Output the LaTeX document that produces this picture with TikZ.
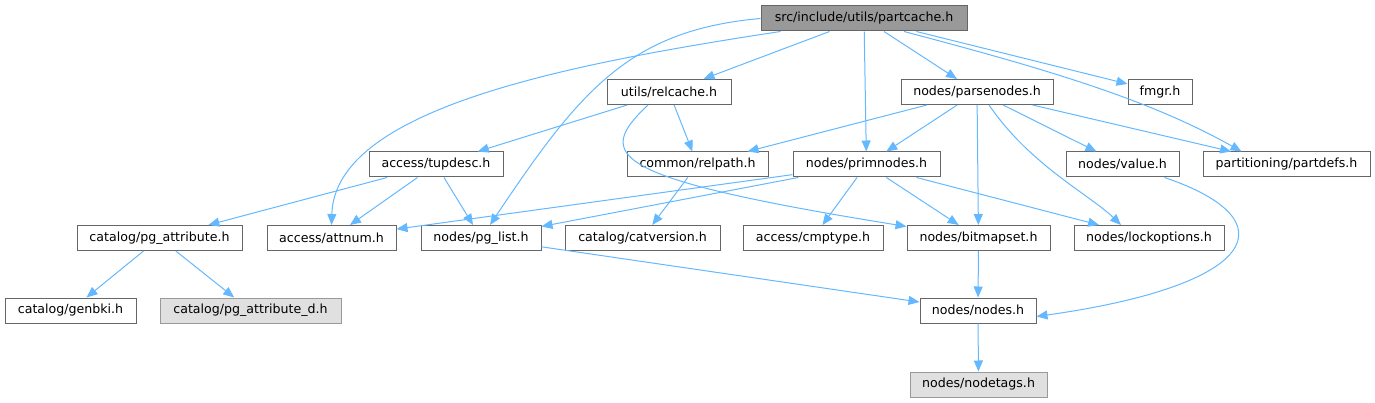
\documentclass[tikz,border=0pt]{standalone}
\usepackage{fontspec}
\setmainfont{DejaVu Sans}
\usetikzlibrary{arrows.meta}
\definecolor{edgeblue}{HTML}{63B8FF}
\definecolor{boxline}{HTML}{666666}
\definecolor{rootfill}{HTML}{999999}
\definecolor{greyfill}{HTML}{E0E0E0}
\definecolor{greyline}{HTML}{999999}

\begin{document}
\begin{tikzpicture}[x=1pt, y=-1pt,
  file/.style={draw=boxline, line width=1pt, fill=white, minimum height=25pt, inner sep=0pt, font=\fontsize{12.6}{15}\selectfont},
  root/.style={file, fill=rootfill},
  ghost/.style={file, draw=greyline, fill=greyfill},
  inc/.style={draw=edgeblue, line width=1pt, -{Triangle[length=11pt,width=9pt]}}]
\useasboundingbox (0,0) rectangle (1375,403);
\path (864,18.5) node[root, minimum width=206pt] (partcache) {src/include/utils/partcache.h};
\path (669,92) node[file, minimum width=124pt] (relcache) {utils/relcache.h};
\path (977,92) node[file, minimum width=152pt] (parsenodes) {nodes/parsenodes.h};
\path (1160,92) node[file, minimum width=64pt] (fmgr) {fmgr.h};
\path (436,164.5) node[file, minimum width=134pt] (tupdesc) {access/tupdesc.h};
\path (697.5,164.5) node[file, minimum width=141pt] (relpath) {common/relpath.h};
\path (866.5,164.5) node[file, minimum width=147pt] (primnodes) {nodes/primnodes.h};
\path (1122.5,164.5) node[file, minimum width=113pt] (value) {nodes/value.h};
\path (1286.5,164.5) node[file, minimum width=167pt] (partdefs) {partitioning/partdefs.h};
\path (159.5,238) node[file, minimum width=165pt] (pgattribute) {catalog/pg\_attribute.h};
\path (331.5,238) node[file, minimum width=129pt] (attnum) {access/attnum.h};
\path (481,238) node[file, minimum width=120pt] (pglist) {nodes/pg\_list.h};
\path (642.5,238) node[file, minimum width=155pt] (catversion) {catalog/catversion.h};
\path (813,238) node[file, minimum width=140pt] (cmptype) {access/cmptype.h};
\path (978.5,238) node[file, minimum width=143pt] (bitmapset) {nodes/bitmapset.h};
\path (1149,238) node[file, minimum width=150pt] (lockoptions) {nodes/lockoptions.h};
\path (70.5,310.5) node[file, minimum width=131pt] (genbki) {catalog/genbki.h};
\path (250.5,310.5) node[ghost, minimum width=181pt] (pgattributed) {catalog/pg\_attribute\_d.h};
\path (978,310.5) node[file, minimum width=116pt] (nodes) {nodes/nodes.h};
\path (978.5,384.5) node[ghost, minimum width=137pt] (nodetags) {nodes/nodetags.h};
% from partcache.h
\draw[inc] ([xshift=20pt]partcache.south west) .. controls (560,65) and (335,110) .. (attnum.north);
\draw[inc] (partcache.west) .. controls (630,30) and (580,90) .. ([xshift=9pt]pglist.north);
\draw[inc] (partcache) -- (relcache);
\draw[inc] (partcache) -- (primnodes);
\draw[inc] (partcache) -- (parsenodes);
\draw[inc] (partcache) -- (fmgr);
\draw[inc] ([xshift=40pt]partcache.south) .. controls (1050,70) and (1150,100) .. ([xshift=-45pt]partdefs.north);
% from relcache.h
\draw[inc] (relcache) -- (tupdesc);
\draw[inc] (relcache) -- (relpath);
\draw[inc] ([xshift=-21pt]relcache.south) .. controls (595,155) and (605,178) .. (bitmapset);
% from parsenodes.h
\draw[inc] (parsenodes) -- (relpath);
\draw[inc] (parsenodes) -- (primnodes);
\draw[inc] (parsenodes) -- (bitmapset);
\draw[inc] ([xshift=12pt]parsenodes.south) .. controls (1030,165) and (1090,195) .. ([xshift=-28pt]lockoptions.north);
\draw[inc] (parsenodes) -- (value);
\draw[inc] (parsenodes) -- (partdefs);
% second row
\draw[inc] (tupdesc) -- (pgattribute);
\draw[inc] (tupdesc) -- (attnum);
\draw[inc] (tupdesc) -- (pglist);
\draw[inc] (relpath) -- (catversion);
\draw[inc] (primnodes) -- (attnum);
\draw[inc] (primnodes) -- (pglist);
\draw[inc] (primnodes) -- (cmptype);
\draw[inc] (primnodes) -- (bitmapset);
\draw[inc] (primnodes) -- (lockoptions);
\draw[inc] ([xshift=42pt]value.south) .. controls (1290,220) and (1260,285) .. ([yshift=-6pt]nodes.east);
% lower rows
\draw[inc] (pgattribute) -- (genbki);
\draw[inc] (pgattribute) -- (pgattributed);
\draw[inc] (pglist) -- (nodes);
\draw[inc] (bitmapset) -- (nodes);
\draw[inc] (nodes) -- (nodetags);
\end{tikzpicture}
\end{document}
